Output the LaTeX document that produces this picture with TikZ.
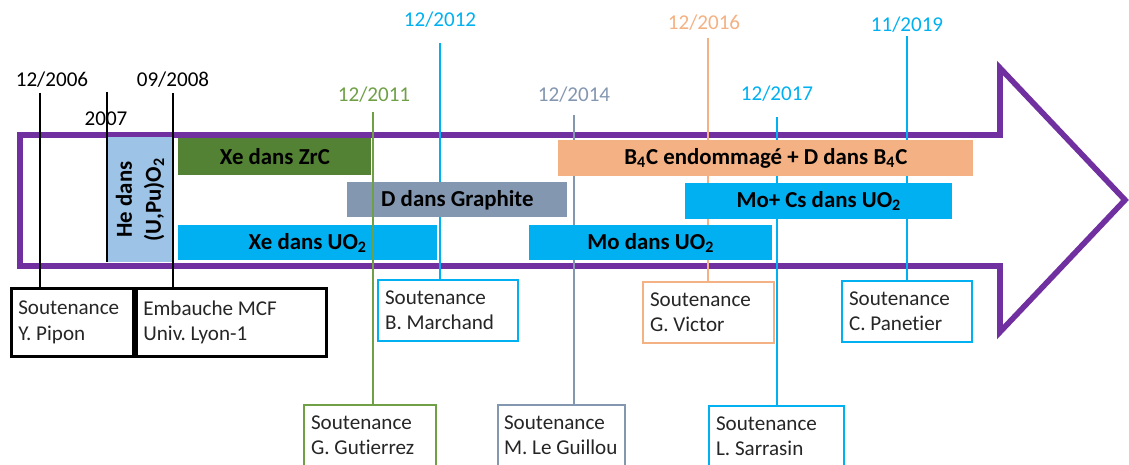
\documentclass[tikz,border=0pt]{standalone}
\usepackage{fontspec}
\setmainfont[Ligatures=NoCommon]{Carlito}
\usepackage{tikz}
\usetikzlibrary{positioning}
\frenchspacing
\hyphenpenalty=10000

\definecolor{violetfleche}{HTML}{7030A0}
\definecolor{vertfonce}{HTML}{548235}
\definecolor{vertclair}{HTML}{6FA046}
\definecolor{grisbleu}{HTML}{8497B0}
\definecolor{bleuvif}{HTML}{00B0F0}
\definecolor{orangeclair}{HTML}{F4B183}
\definecolor{bleuclair}{HTML}{9DC3E6}

\tikzset{
	barbox/.style={anchor=north west, inner sep=0pt, text=black, font=\fontsize{13}{16.5}\selectfont\bfseries},
	datelbl/.style={inner sep=1pt, font=\fontsize{12}{14}\selectfont},
	soutbox/.style={anchor=north west, draw, line width=1.2pt, fill=white, align=flush left, inner xsep=1.4mm, text=black!85, font=\fontsize{12}{14.4}\selectfont, minimum height=12.2mm},
	tick/.style={line width=0.9pt},
}

\begin{document}
\begin{tikzpicture}[x=0.2mm, y=-0.2mm]
	\useasboundingbox (0,0) rectangle (1129,464);
	\clip (0,0) rectangle (1129,464);
	% la fleche du temps
	\draw[violetfleche, line width=3.2pt, line join=miter] (20,135) -- (1000,135) -- (1000,68) -- (1125,200) -- (1000,332) -- (1000,266) -- (20,266) -- cycle;

	% dates
	\node[datelbl] (d2006) at (52,80) {12/2006};
	\node[datelbl] (d2007) at (106,119) {2007};
	\node[datelbl] (d2008) at (173,80) {09/2008};
	\node[datelbl, text=vertclair] (d2011) at (374,95) {12/2011};
	\node[datelbl, text=bleuvif] (d2012) at (440,20) {12/2012};
	\node[datelbl, text=grisbleu] (d2014) at (574,95) {12/2014};
	\node[datelbl, text=orangeclair] (d2016) at (704,23) {12/2016};
	\node[datelbl, text=bleuvif] (d2017) at (777,94) {12/2017};
	\node[datelbl, text=bleuvif] (d2019) at (907,25) {11/2019};

	% soutenances et embauche
	\node[soutbox, line width=1.5pt, minimum height=13.6mm, text width=21.6mm] (pipon) at (10,287) {Soutenance\\Y. Pipon};
	\node[soutbox, line width=1.5pt, minimum height=13.6mm, text width=35.2mm] (mcf) at (135,287) {Embauche MCF\\Univ. Lyon-1};
	\node[soutbox, draw=bleuvif, text width=25.2mm] (marchand) at (377,279) {Soutenance\\B. Marchand};
	\node[soutbox, draw=orangeclair, text width=23.4mm] (victor) at (642,281) {Soutenance\\G. Victor};
	\node[soutbox, draw=bleuvif, text width=23.2mm] (panetier) at (841,280) {Soutenance\\C. Panetier};
	\node[soutbox, draw=vertclair, text width=23.6mm] (gutierrez) at (303,404) {Soutenance\\G. Gutierrez};
	\node[soutbox, draw=grisbleu, inner xsep=1.2mm, text width=23mm] (leguillou) at (497,404) {Soutenance\\M. Le Guillou};
	\node[soutbox, draw=bleuvif, text width=24.2mm] (sarrasin) at (708,405) {Soutenance\\L. Sarrasin};

	% traits derriere les bandes
	\coordinate (t2012) at (440,43);
	\coordinate (t2014) at (574,115);
	\coordinate (t2016) at (708,38);
	\coordinate (t2017) at (777,117);
	\coordinate (t2019) at (907,36);
	\draw[tick, bleuvif] (t2012) -- (t2012 |- marchand.north);
	\draw[tick, grisbleu] (t2014) -- (t2014 |- leguillou.north);
	\draw[tick, orangeclair] (t2016) -- (t2016 |- victor.north);
	\draw[tick, bleuvif] (t2017) -- (t2017 |- sarrasin.north);
	\draw[tick, bleuvif] (t2019) -- (t2019 |- panetier.north);

	% themes de recherche
	\node[barbox, fill=bleuclair, rotate=90, anchor=center, align=center, minimum width=25mm, minimum height=13.2mm] (he) at (140,199.5) {He dans\\(U,Pu)O\textsubscript{2}};
	\node[barbox, fill=vertfonce, minimum width=38.6mm, minimum height=7.4mm] (xezrc) at (178,138) {Xe dans ZrC};
	\node[barbox, fill=grisbleu, minimum width=44mm, minimum height=7mm] (dgraph) at (347,182) {D dans Graphite};
	\node[barbox, fill=bleuvif, minimum width=51.8mm, minimum height=7mm] (xeuo) at (178,225) {Xe dans UO\textsubscript{2}};
	\node[barbox, fill=orangeclair, minimum width=83mm, minimum height=7.2mm] (bfourc) at (558,140) {B\textsubscript{4}C endommagé + D dans B\textsubscript{4}C};
	\node[barbox, fill=bleuvif, minimum width=48.6mm, minimum height=7mm] (mouo) at (529,225) {Mo dans UO\textsubscript{2}};
	\node[barbox, fill=bleuvif, minimum width=53.4mm, minimum height=7.2mm] (mocs) at (685,183) {Mo+ Cs dans UO\textsubscript{2}};

	% traits devant les bandes
	\coordinate (t2006) at (40,93);
	\coordinate (t2007) at (107,92);
	\coordinate (t2008) at (173,93);
	\coordinate (t2011) at (373,112);
	\draw[tick, line width=1.1pt] (t2006) -- (t2006 |- pipon.north);
	\draw[tick, line width=1.1pt] (t2007) -- (t2007 |- he.west);
	\draw[tick, line width=1.1pt] (t2008) -- (t2008 |- mcf.north);
	\draw[tick, vertclair] (t2011) -- (t2011 |- gutierrez.north);
\end{tikzpicture}
\end{document}
